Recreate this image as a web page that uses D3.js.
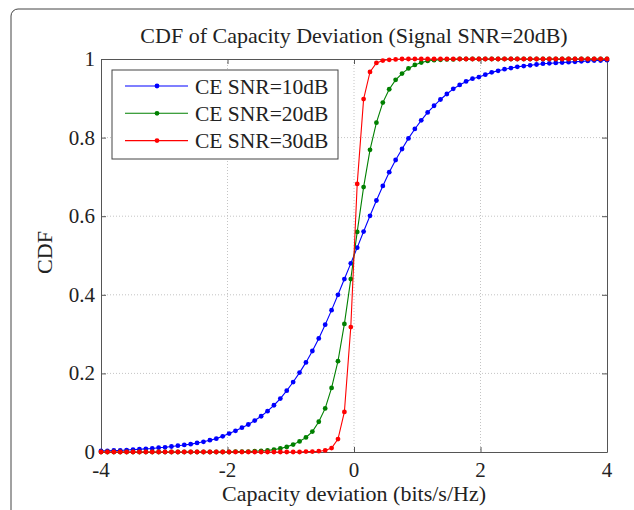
<!DOCTYPE html>
<html>
<head>
<meta charset="utf-8">
<script src="https://cdn.jsdelivr.net/npm/d3@7"></script>
<style>
  body { margin: 0; background: #fff; }
  svg text { font-family: "Liberation Serif", "Times New Roman", serif; fill: #222; }
</style>
</head>
<body>
<div id="chart"></div>
<script>
// x grid: 80 samples between -4 and 4
const nPts = 80;
const xs = d3.range(nPts).map(k => -4 + k * 8 / (nPts - 1));

// CDF values, one per sample
const ce10 = [0.003,0.003,0.004,0.004,0.005,0.006,0.007,0.008,0.009,0.011,
              0.012,0.014,0.016,0.018,0.020,0.023,0.026,0.030,0.034,0.040,
              0.047,0.054,0.062,0.070,0.080,0.091,0.104,0.119,0.136,0.156,
              0.178,0.202,0.228,0.257,0.289,0.324,0.361,0.400,0.440,0.480,
              0.520,0.561,0.601,0.640,0.677,0.712,0.743,0.771,0.798,0.822,
              0.844,0.864,0.881,0.897,0.911,0.924,0.934,0.943,0.950,0.954,
              0.960,0.966,0.970,0.974,0.977,0.980,0.982,0.984,0.986,0.988,
              0.989,0.990,0.991,0.992,0.993,0.994,0.995,0.996,0.996,0.997];
const ce20 = [0.000,0.000,0.000,0.000,0.000,0.000,0.000,0.000,0.000,0.000,
              0.000,0.000,0.000,0.000,0.000,0.000,0.000,0.000,0.000,0.000,
              0.000,0.001,0.001,0.001,0.002,0.003,0.004,0.006,0.009,0.013,
              0.019,0.027,0.037,0.052,0.077,0.111,0.163,0.231,0.326,0.440,
              0.560,0.674,0.769,0.838,0.889,0.923,0.947,0.963,0.976,0.985,
              0.991,0.995,0.997,0.998,0.999,0.999,1.000,1.000,1.000,1.000,
              1.000,1.000,1.000,1.000,1.000,1.000,1.000,1.000,1.000,1.000,
              1.000,1.000,1.000,1.000,1.000,1.000,1.000,1.000,1.000,1.000];
const ce30 = [0.000,0.000,0.000,0.000,0.000,0.000,0.000,0.000,0.000,0.000,
              0.000,0.000,0.000,0.000,0.000,0.000,0.000,0.000,0.000,0.000,
              0.000,0.000,0.000,0.000,0.000,0.000,0.000,0.000,0.000,0.000,
              0.000,0.000,0.001,0.001,0.002,0.004,0.010,0.033,0.102,0.318,
              0.682,0.898,0.967,0.990,0.996,0.998,0.999,1.000,1.000,1.000,
              1.000,1.000,1.000,1.000,1.000,1.000,1.000,1.000,1.000,1.000,
              1.000,1.000,1.000,1.000,1.000,1.000,1.000,1.000,1.000,1.000,
              1.000,1.000,1.000,1.000,1.000,1.000,1.000,1.000,1.000,1.000];

const seriesNames = ["CE SNR=10dB", "CE SNR=20dB", "CE SNR=30dB"];
const seriesColors = ["#0000ff", "#008000", "#ff0000"];
const xTicks = [-4, -2, 0, 2, 4];
const xTickLabels = ["-4", "-2", "0", "2", "4"];
const yTicks = [0, 0.2, 0.4, 0.6, 0.8, 1];
const yTickLabels = ["0", "0.2", "0.4", "0.6", "0.8", "1"];

const W = 634, H = 510;
const margin = {top: 59, right: 27, bottom: 58, left: 101};
const width = W - margin.left - margin.right,
      height = H - margin.top - margin.bottom;

const svg = d3.select("#chart").append("svg")
    .attr("width", W).attr("height", H);

// outer rounded frame (figure border)
svg.append("rect")
    .attr("x", 11).attr("y", 9)
    .attr("width", 700).attr("height", 600)
    .attr("rx", 7)
    .attr("fill", "none")
    .attr("stroke", "#444")
    .attr("stroke-width", 1);

const x = d3.scaleLinear().domain([-4, 4]).range([0, width]);
const y = d3.scaleLinear().domain([0, 1]).range([height, 0]);

const g = svg.append("g")
    .attr("transform", `translate(${margin.left},${margin.top})`);

// dotted grid
g.append("g").selectAll("line")
    .data(xTicks.slice(1, -1)).join("line")
    .attr("x1", d => x(d)).attr("x2", d => x(d))
    .attr("y1", 0).attr("y2", height)
    .attr("stroke", "#c4c4c4").attr("stroke-dasharray", "1,2");
g.append("g").selectAll("line")
    .data(yTicks.slice(1, -1)).join("line")
    .attr("x1", 0).attr("x2", width)
    .attr("y1", d => y(d)).attr("y2", d => y(d))
    .attr("stroke", "#c4c4c4").attr("stroke-dasharray", "1,2");

// axes box, matlab style ticks pointing in (labels drawn separately below)
const xAxis = g.append("g")
    .attr("transform", `translate(0,${height})`)
    .call(d3.axisBottom(x).tickValues(xTicks).tickSizeInner(-5).tickSizeOuter(0).tickFormat(""));
const xTop = g.append("g")
    .call(d3.axisTop(x).tickValues(xTicks).tickSizeInner(-5).tickSizeOuter(0).tickFormat(""));
const yAxis = g.append("g")
    .call(d3.axisLeft(y).tickValues(yTicks).tickSizeInner(-5).tickSizeOuter(0).tickFormat(""));
const yRight = g.append("g")
    .attr("transform", `translate(${width},0)`)
    .call(d3.axisRight(y).tickValues(yTicks).tickSizeInner(-5).tickSizeOuter(0).tickFormat(""));

[xAxis, xTop, yAxis, yRight].forEach(a => {
  a.select(".domain").attr("stroke", "#555");
  a.selectAll(".tick line").attr("stroke", "#555");
});

// tick labels in serif
g.append("g").selectAll("text")
    .data(xTicks).join("text")
    .attr("x", d => x(d))
    .attr("y", height + 25)
    .attr("text-anchor", "middle")
    .style("font-size", "21px")
    .text((d, i) => xTickLabels[i]);
g.append("g").selectAll("text")
    .data(yTicks).join("text")
    .attr("x", -6)
    .attr("y", d => y(d))
    .attr("dy", "0.33em")
    .attr("text-anchor", "end")
    .style("font-size", "21px")
    .text((d, i) => yTickLabels[i]);

// the curves
const line = d3.line().x((d, i) => x(xs[i])).y(d => y(d));
const allSeries = [ce10, ce20, ce30];
allSeries.forEach((vals, si) => {
  const sg = g.append("g");
  sg.append("path").datum(vals)
      .attr("d", line)
      .attr("fill", "none")
      .attr("stroke", seriesColors[si])
      .attr("stroke-width", 1.1);
  sg.selectAll("circle").data(vals).join("circle")
      .attr("cx", (d, i) => x(xs[i]))
      .attr("cy", d => y(d))
      .attr("r", 2.4)
      .attr("fill", seriesColors[si]);
});

// legend
const leg = g.append("g").attr("transform", "translate(11,11)");
leg.append("rect")
    .attr("width", 226).attr("height", 89)
    .attr("fill", "#fff").attr("stroke", "#444").attr("stroke-width", 1);
seriesNames.forEach((name, i) => {
  const row = leg.append("g").attr("transform", `translate(0,${16 + i * 27.3})`);
  row.append("line").attr("x1", 13).attr("x2", 76)
      .attr("stroke", seriesColors[i]).attr("stroke-width", 1.1);
  row.append("circle").attr("cx", 45).attr("r", 2.4).attr("fill", seriesColors[i]);
  row.append("text").attr("x", 83).attr("dy", "0.35em")
      .style("font-size", "21.5px").text(name);
});

// titles
svg.append("text")
    .attr("x", margin.left + width / 2).attr("y", 43)
    .attr("text-anchor", "middle")
    .style("font-size", "22px")
    .text("CDF of Capacity Deviation (Signal SNR=20dB)");
svg.append("text")
    .attr("x", margin.left + width / 2).attr("y", 501)
    .attr("text-anchor", "middle")
    .style("font-size", "22px")
    .text("Capacity deviation (bits/s/Hz)");
svg.append("text")
    .attr("transform", `translate(52,${margin.top + height / 2 - 3}) rotate(-90)`)
    .attr("text-anchor", "middle")
    .style("font-size", "22px")
    .text("CDF");
</script>
</body>
</html>
